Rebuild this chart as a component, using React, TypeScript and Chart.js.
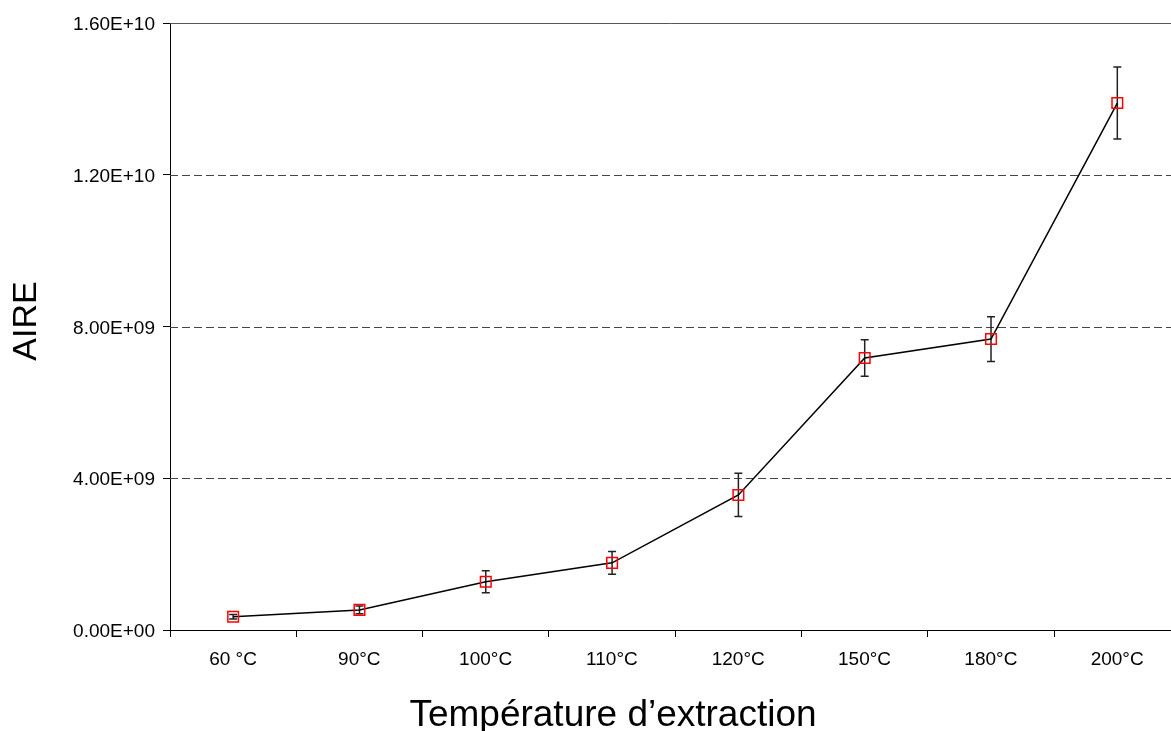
import React, { useEffect, useRef } from 'react';
import { Chart, registerables } from 'chart.js';

Chart.register(...registerables);

const categories = ['60 °C', '90°C', '100°C', '110°C', '120°C', '150°C', '180°C', '200°C'];
const aire = [0.35e9, 0.53e9, 1.27e9, 1.77e9, 3.56e9, 7.17e9, 7.67e9, 13.89e9];
const errors = [0.06e9, 0.1e9, 0.29e9, 0.3e9, 0.57e9, 0.48e9, 0.59e9, 0.95e9];
const yTicks = [0, 4e9, 8e9, 1.2e10, 1.6e10];
const xTitle = 'Température d’extraction';
const yTitle = 'AIRE';

const FONT = "'Liberation Sans', Arial, sans-serif";
// visible part of the category range (the original plot is slightly cropped on the right)
const X_MIN = -0.5;
const X_MAX = 7.425;

function fmt(v: number): string {
  if (v === 0) return '0.00E+00';
  const e = Math.floor(Math.log10(v) + 1e-9);
  const m = v / Math.pow(10, e);
  return m.toFixed(2) + 'E+' + String(e).padStart(2, '0');
}

const gridPlugin = {
  id: 'customGrid',
  beforeDatasetsDraw(chart: any) {
    const { ctx, chartArea, scales } = chart;
    const y = scales.y;
    ctx.save();
    ctx.lineWidth = 1;
    yTicks.forEach((v) => {
      if (v === 0) return;
      const py = Math.round(y.getPixelForValue(v)) + 0.5;
      ctx.beginPath();
      if (v === yTicks[yTicks.length - 1]) {
        ctx.setLineDash([]);
        ctx.strokeStyle = '#555';
      } else {
        ctx.setLineDash([8, 4]);
        ctx.strokeStyle = '#444';
      }
      ctx.moveTo(chartArea.left, py);
      ctx.lineTo(chartArea.right, py);
      ctx.stroke();
    });
    ctx.restore();
  },
};

const errorBarPlugin = {
  id: 'errorBars',
  beforeDatasetsDraw(chart: any) {
    const { ctx, scales } = chart;
    const x = scales.x;
    const y = scales.y;
    ctx.save();
    ctx.strokeStyle = '#222';
    ctx.lineWidth = 1.5;
    aire.forEach((v, i) => {
      const px = x.getPixelForValue(i);
      const top = y.getPixelForValue(v + errors[i]);
      const bot = y.getPixelForValue(v - errors[i]);
      ctx.beginPath();
      ctx.moveTo(px, top);
      ctx.lineTo(px, bot);
      ctx.moveTo(px - 4, top);
      ctx.lineTo(px + 4, top);
      ctx.moveTo(px - 4, bot);
      ctx.lineTo(px + 4, bot);
      ctx.stroke();
    });
    ctx.restore();
  },
};

const titlesPlugin = {
  id: 'axisTitles',
  afterDraw(chart: any) {
    const { ctx } = chart;
    ctx.save();
    ctx.fillStyle = '#000';
    ctx.font = `37px ${FONT}`;
    ctx.textAlign = 'center';
    ctx.textBaseline = 'alphabetic';
    ctx.fillText(xTitle, 613, 726);
    ctx.font = `34px ${FONT}`;
    ctx.translate(36, 321);
    ctx.rotate(-Math.PI / 2);
    ctx.fillText(yTitle, 0, 0);
    ctx.restore();
  },
};

export default function App() {
  const ref = useRef<HTMLCanvasElement>(null);

  useEffect(() => {
    if (!ref.current) return;
    const points = aire.map((v, i) => ({ x: i, y: v }));
    const chart = new Chart(ref.current, {
      type: 'line',
      data: {
        datasets: [
          {
            data: points,
            borderColor: '#000',
            borderWidth: 1.5,
            pointStyle: 'rect',
            pointRadius: 7.5,
            pointBorderColor: '#ff0000',
            pointBackgroundColor: 'rgba(0,0,0,0)',
            pointBorderWidth: 1.5,
            tension: 0,
            fill: false,
          },
        ],
      },
      options: {
        responsive: false,
        animation: false,
        layout: { autoPadding: false, padding: { top: 23, left: 0, right: 0, bottom: 0 } },
        plugins: {
          legend: { display: false },
          tooltip: { enabled: false },
        },
        scales: {
          x: {
            type: 'linear',
            min: X_MIN,
            max: X_MAX,
            afterBuildTicks(scale: any) {
              scale.ticks = categories.map((_, i) => ({ value: i - 0.5 }));
            },
            grid: {
              display: true,
              drawOnChartArea: false,
              drawTicks: true,
              tickLength: 7,
              color: '#000',
            },
            border: { display: true, color: '#000', width: 1 },
            ticks: {
              color: '#000',
              font: { family: FONT, size: 19 },
              padding: 11,
              maxRotation: 0,
              minRotation: 0,
              autoSkip: false,
              labelOffset: 63,
              callback: (_v: any, i: number) => categories[i],
            },
            afterFit(scale: any) {
              scale.height = 101;
            },
          },
          y: {
            type: 'linear',
            min: 0,
            max: 1.6e10,
            afterBuildTicks(scale: any) {
              scale.ticks = yTicks.map((v) => ({ value: v }));
            },
            grid: {
              display: true,
              drawOnChartArea: false,
              drawTicks: true,
              tickLength: 7,
              color: '#000',
            },
            border: { display: true, color: '#000', width: 1 },
            ticks: {
              color: '#000',
              font: { family: FONT, size: 19 },
              padding: 8,
              labelOffset: 2,
              callback: (v: any) => fmt(Number(v)),
            },
            afterFit(scale: any) {
              scale.width = 170;
            },
          },
        },
      },
      plugins: [gridPlugin, errorBarPlugin, titlesPlugin],
    });
    return () => chart.destroy();
  }, []);

  return (
    <div
      style={{
        position: 'fixed',
        left: 0,
        top: 0,
        width: 1171,
        height: 731,
        overflow: 'hidden',
        background: '#fff',
      }}
    >
      <canvas ref={ref} width={1171} height={731} style={{ width: 1171, height: 731, display: 'block' }} />
    </div>
  );
}
